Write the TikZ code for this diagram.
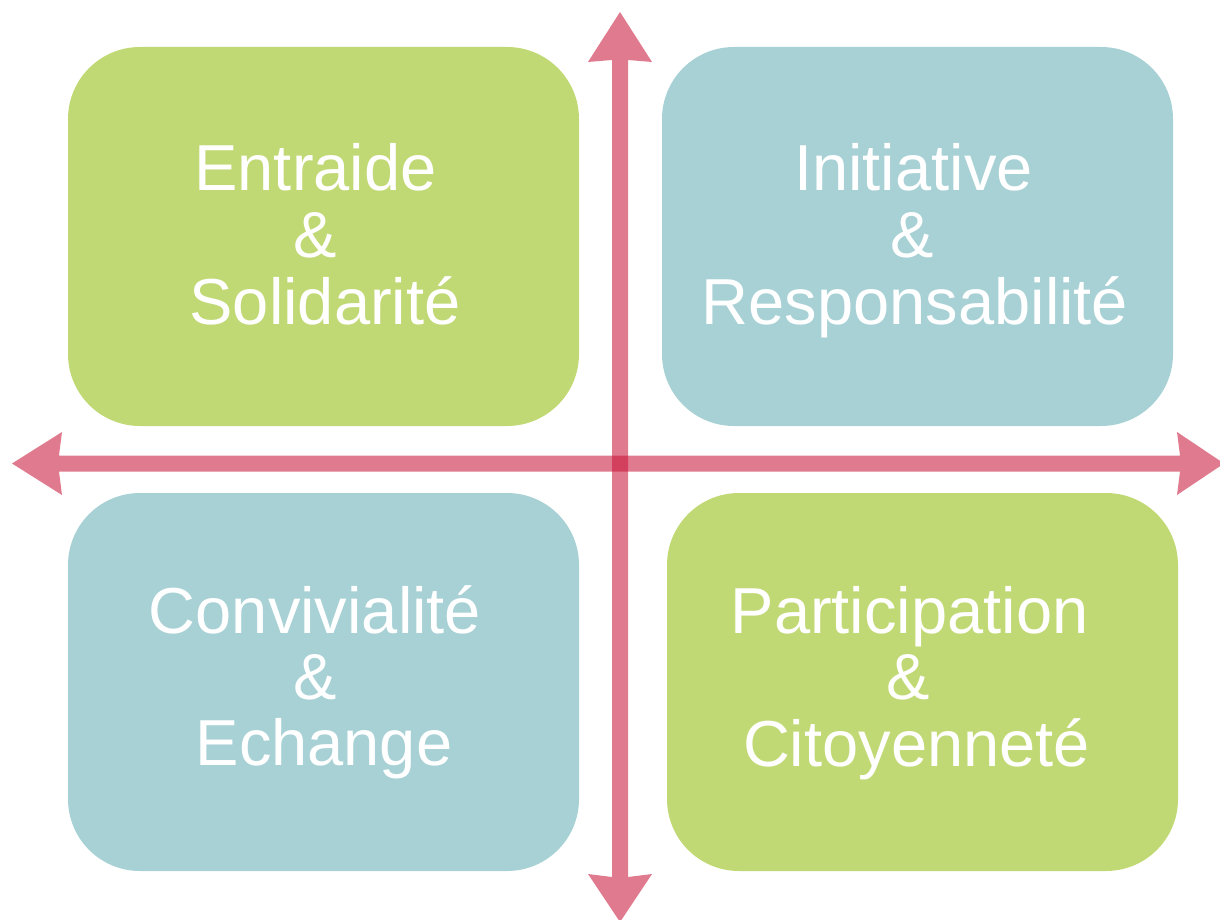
\documentclass[tikz,border=0pt]{standalone}
\usepackage{fontspec}
\setmainfont{Liberation Sans}
\definecolor{boxgreen}{RGB}{193,217,117}
\definecolor{boxblue}{RGB}{167,209,213}
\definecolor{axiscol}{RGB}{200,19,55}
\tikzset{
  quad/.style={rounded corners=72pt},
  greenbox/.style={quad, fill=boxgreen},
  bluebox/.style={quad, fill=boxblue},
  axis/.style={fill=axiscol, fill opacity=0.56},
  label/.style={text=white, inner sep=0pt, anchor=base, font=\fontsize{65}{66}\selectfont}
}
\begin{document}
\begin{tikzpicture}[x=1pt,y=-1pt]
\useasboundingbox (0,0) rectangle (1220,920);
% boxes
\fill[greenbox] (68,47) rectangle (579,426);
\fill[bluebox] (662,47) rectangle (1173,426);
\fill[bluebox] (68,493) rectangle (579,871);
\fill[greenbox] (667,493) rectangle (1178,871);
% vertical axis
\fill[axis] (612,60) -- (588,62) -- (620,12) -- (652,62) -- (628,60) -- (628,877)
  -- (652,874) -- (620,922) -- (588,874) -- (612,877) -- cycle;
% horizontal axis
\fill[axis] (59,455.5) -- (62,432) -- (12,463.5) -- (62,495) -- (59,471.5) -- (1180,471.5)
  -- (1177,495) -- (1224,463.5) -- (1177,432) -- (1180,455.5) -- cycle;
% texts
\node[label] (t1a) at (315.5,191) {Entraide};
\node[label] (t1b) at (315,257) {\&};
\node[label] (t1c) at (325,324) {Solidarité};
\node[label] (t2a) at (913.5,191) {Initiative};
\node[label] (t2b) at (912,257) {\&};
\node[label] (t2c) at (915,324) {Responsabilité};
\node[label] (t3a) at (315,633) {Convivialité};
\node[label] (t3b) at (315,699) {\&};
\node[label] (t3c) at (324,765) {Echange};
\node[label] (t4a) at (909.5,633) {Participation};
\node[label] (t4b) at (908,699) {\&};
\node[label] (t4c) at (916.5,766) {Citoyenneté};
\end{tikzpicture}
\end{document}
